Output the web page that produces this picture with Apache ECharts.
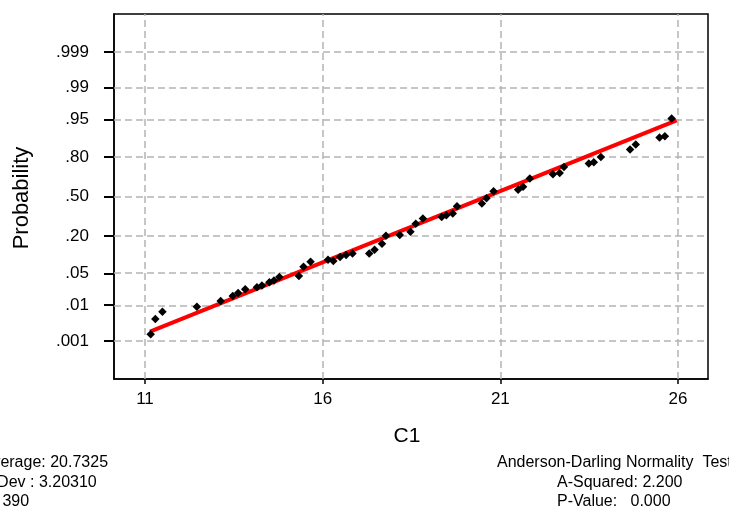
<!DOCTYPE html>
<html>
<head>
<meta charset="utf-8">
<script src="https://cdn.jsdelivr.net/npm/echarts@6/dist/echarts.min.js"></script>
<style>html,body{margin:0;padding:0;background:#fff;}#chart{width:729px;height:510px;}</style>
</head>
<body>
<div id="chart"></div>
<script>
// ---- data ----
const probTicks = [0.001, 0.01, 0.05, 0.20, 0.50, 0.80, 0.95, 0.99, 0.999];
const probLabels = ['.001', '.01', '.05', '.20', '.50', '.80', '.95', '.99', '.999'];
const xTicks = [11, 16, 21, 26];
// observed C1 values and their normal scores (z)
const c1Values = [11.16, 11.29, 11.49, 12.46, 13.13, 13.47, 13.62, 13.82, 14.15, 14.29,
  14.50, 14.63, 14.78, 15.33, 15.46, 15.66, 16.15, 16.30, 16.49, 16.66,
  16.84, 17.31, 17.46, 17.67, 17.78, 18.17, 18.47, 18.62, 18.82, 19.35,
  19.48, 19.66, 19.78, 20.48, 20.61, 20.81, 21.50, 21.64, 21.83, 22.48,
  22.67, 22.79, 23.49, 23.63, 23.83, 24.65, 24.81, 25.48, 25.63, 25.82];
const normalScores = [-2.949, -2.622, -2.466, -2.359, -2.237, -2.130, -2.066, -1.987, -1.944, -1.906,
  -1.835, -1.799, -1.724, -1.703, -1.504, -1.397, -1.355, -1.382, -1.293, -1.254,
  -1.218, -1.218, -1.141, -1.013, -0.842, -0.823, -0.752, -0.585, -0.470, -0.436,
  -0.400, -0.363, -0.207, -0.150, -0.036, 0.113, 0.145, 0.209, 0.385, 0.476,
  0.504, 0.632, 0.705, 0.733, 0.846, 1.004, 1.111, 1.261, 1.288, 1.667];
// fitted line end points
const fitX = [11.14, 25.96];
const fitZ = [-2.89, 1.63];
const statsLeft = ['Average: 20.7325', 'StDev : 3.20310', 'N: 390'];
const statsRight = ['Anderson-Darling Normality  Test', 'A-Squared: 2.200', 'P-Value:   0.000'];

// inverse standard normal CDF (probability scale)
function probit(p) {
  const a = [-3.969683028665376e+01, 2.209460984245205e+02, -2.759285104469687e+02, 1.383577518672690e+02, -3.066479806614716e+01, 2.506628277459239e+00];
  const b = [-5.447609879822406e+01, 1.615858368580409e+02, -1.556989798598866e+02, 6.680131188771972e+01, -1.328068155288572e+01];
  const c = [-7.784894002430293e-03, -3.223964580411365e-01, -2.400758277161838e+00, -2.549732539343734e+00, 4.374664141464968e+00, 2.938163982698783e+00];
  const d = [7.784695709041462e-03, 3.224671290700398e-01, 2.445134137142996e+00, 3.754408661907416e+00];
  const plow = 0.02425, phigh = 1 - plow;
  let q, r;
  if (p < plow) {
    q = Math.sqrt(-2 * Math.log(p));
    return (((((c[0]*q+c[1])*q+c[2])*q+c[3])*q+c[4])*q+c[5]) / ((((d[0]*q+d[1])*q+d[2])*q+d[3])*q+1);
  } else if (p <= phigh) {
    q = p - 0.5; r = q*q;
    return (((((a[0]*r+a[1])*r+a[2])*r+a[3])*r+a[4])*r+a[5])*q / (((((b[0]*r+b[1])*r+b[2])*r+b[3])*r+b[4])*r+1);
  } else {
    q = Math.sqrt(-2 * Math.log(1 - p));
    return -(((((c[0]*q+c[1])*q+c[2])*q+c[3])*q+c[4])*q+c[5]) / ((((d[0]*q+d[1])*q+d[2])*q+d[3])*q+1);
  }
}
const tickZ = probTicks.map(probit);

const chart = echarts.init(document.getElementById('chart'), null, {renderer: 'canvas'});
const font = 'Arial, "Liberation Sans", sans-serif';
const gridLine = {color: '#b4b4b4', width: 1.5, type: [7, 4]};

const option = {
  animation: false,
  backgroundColor: '#ffffff',
  textStyle: {fontFamily: font},
  grid: {left: 114, top: 14, width: 594, height: 365, show: true, borderColor: '#000', borderWidth: 1.5, containLabel: false},
  xAxis: {
    type: 'value', min: 10.1275, max: 26.844,
    axisLine: {show: true, onZero: false, lineStyle: {color: '#000', width: 1.5}},
    axisTick: {show: true, customValues: xTicks, length: 5, lineStyle: {color: '#000', width: 1.5}},
    axisLabel: {customValues: xTicks, margin: 12, fontSize: 17, color: '#000', fontFamily: font},
    splitLine: {show: false}
  },
  yAxis: {
    type: 'value', min: -3.905, max: 3.905,
    axisLine: {show: true, onZero: false, lineStyle: {color: '#000', width: 1.5}},
    axisTick: {show: true, customValues: tickZ, length: 10, lineStyle: {color: '#000', width: 2}},
    axisLabel: {
      customValues: tickZ, margin: 25, fontSize: 17, color: '#000', fontFamily: font,
      formatter: function (v) {
        let best = 0, bd = Infinity;
        tickZ.forEach(function (t, i) { const dd = Math.abs(t - v); if (dd < bd) { bd = dd; best = i; } });
        return probLabels[best];
      }
    },
    splitLine: {show: false}
  },
  graphic: [
    {type: 'text', x: 22, y: 198, rotation: Math.PI / 2, style: {text: 'Probability', font: '22px ' + font, fill: '#000', align: 'center', verticalAlign: 'middle'}},
    {type: 'text', x: 407, y: 436, style: {text: 'C1', font: '21px ' + font, fill: '#000', align: 'center', verticalAlign: 'middle'}},
    {type: 'text', x: -18, y: 463, style: {text: statsLeft[0], font: '16px ' + font, fill: '#000', align: 'left', verticalAlign: 'middle'}},
    {type: 'text', x: -18, y: 483, style: {text: statsLeft[1], font: '16px ' + font, fill: '#000', align: 'left', verticalAlign: 'middle'}},
    {type: 'text', x: -18, y: 502, style: {text: statsLeft[2], font: '16px ' + font, fill: '#000', align: 'left', verticalAlign: 'middle'}},
    {type: 'text', x: 497, y: 463, style: {text: statsRight[0], font: '16px ' + font, fill: '#000', align: 'left', verticalAlign: 'middle'}},
    {type: 'text', x: 557, y: 483, style: {text: statsRight[1], font: '16px ' + font, fill: '#000', align: 'left', verticalAlign: 'middle'}},
    {type: 'text', x: 557, y: 502, style: {text: statsRight[2], font: '16px ' + font, fill: '#000', align: 'left', verticalAlign: 'middle'}}
  ],
  series: [
    {
      type: 'line', data: [], silent: true, z: 1,
      markLine: {
        silent: true, symbol: 'none', animation: false, z: 1,
        label: {show: false}, lineStyle: gridLine,
        data: tickZ.map(function (z) { return {yAxis: z}; }).concat(xTicks.map(function (x) { return {xAxis: x}; }))
      }
    },
    {
      type: 'line', z: 8, symbol: 'none', silent: true,
      data: fitX.map(function (x, i) { return [x, fitZ[i]]; }),
      lineStyle: {color: '#ff0000', width: 4}
    },
    {
      type: 'scatter', z: 10, symbol: 'diamond', symbolSize: 8.5, silent: true,
      itemStyle: {color: '#000', opacity: 1},
      data: c1Values.map(function (x, i) { return [x, normalScores[i]]; })
    }
  ]
};
chart.setOption(option);
</script>
</body>
</html>
